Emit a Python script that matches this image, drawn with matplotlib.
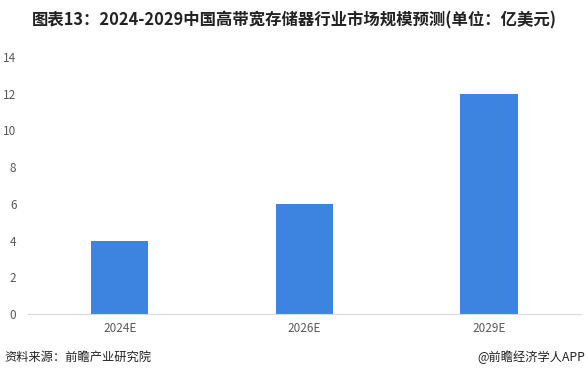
import matplotlib
matplotlib.use("Agg")
import matplotlib.pyplot as plt

plt.rcParams['font.family'] = ['Noto Sans CJK SC', 'DejaVu Sans']

categories = ["2024E", "2026E", "2029E"]
values = [4, 6, 12]
yticks = [0, 2, 4, 6, 8, 10, 12, 14]

fig = plt.figure(figsize=(5.88, 3.8), dpi=100)
ax = fig.add_axes([0.0468, 0.1737, 0.942, 0.6763])
x = range(len(categories))
ax.bar(x, values, width=0.31, color='#3D84E0')
ax.set_xlim(-0.5, 2.5)
ax.set_ylim(0, 14)
ax.set_yticks(yticks)
ax.set_xticks(list(x))
ax.set_xticklabels(categories)
for s in ['top', 'right', 'left']:
    ax.spines[s].set_visible(False)
ax.spines['bottom'].set_color('#d9d9d9')
ax.tick_params(axis='both', length=0, labelsize=8.5, colors='#595959')
ax.tick_params(axis='x', pad=6)
ax.tick_params(axis='y', pad=8)

fig.text(0.5, 0.945, "图表13：2024-2029中国高带宽存储器行业市场规模预测(单位：亿美元)",
         ha='center', va='center', fontsize=11.8, fontweight='bold', color='#222222')
fig.text(0.008, 0.06, "资料来源：前瞻产业研究院", ha='left', va='center', fontsize=8.8, color='#222222')
fig.text(0.995, 0.06, "@前瞻经济学人APP", ha='right', va='center', fontsize=8.8, color='#222222')

fig.savefig("out.png", dpi=100)
